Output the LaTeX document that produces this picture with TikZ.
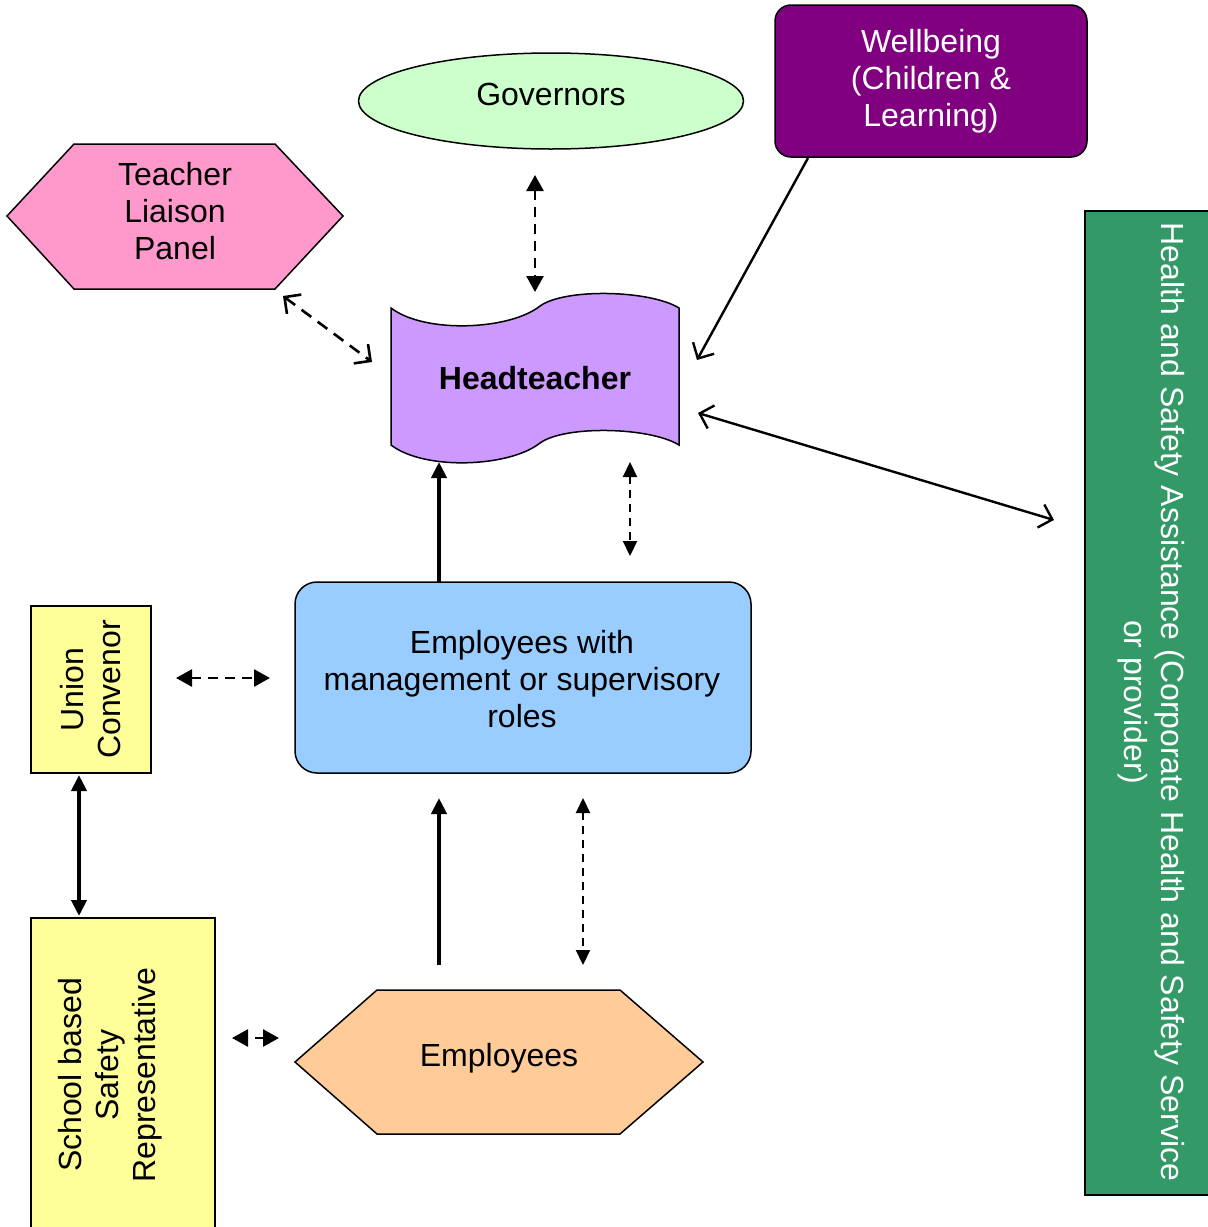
\documentclass[tikz,border=0pt]{standalone}
\usepackage{fontspec}
\setmainfont{Liberation Sans}
\usetikzlibrary{arrows.meta,shapes.geometric}
\definecolor{pinkc}{HTML}{FF99CC}
\definecolor{purpc}{HTML}{800080}
\definecolor{mintc}{HTML}{CCFFCC}
\definecolor{lilac}{HTML}{CC99FF}
\definecolor{skyc}{HTML}{99CCFF}
\definecolor{yelc}{HTML}{FFFF99}
\definecolor{peachc}{HTML}{FFCC99}
\definecolor{greenc}{HTML}{339966}
\begin{document}
\begin{tikzpicture}[x=1pt,y=-1pt,
  lbl/.style={font=\fontsize{32}{37}\selectfont, align=center, inner sep=0pt},
  shp/.style={draw=black, line width=1.5pt},
  dshfill/.style={line width=2.6pt, dash pattern=on 10pt off 7pt,
     {Triangle[length=16pt,width=17pt]}-{Triangle[length=16pt,width=17pt]}},
  dshopen/.style={line width=2.6pt, dash pattern=on 12pt off 8pt,
     {Straight Barb[length=12pt,width=24pt]}-{Straight Barb[length=12pt,width=24pt]}},
  thin/.style={line width=2.4pt},
  thick2/.style={line width=4pt}
]
\useasboundingbox (0,0) rectangle (1208,1227);

% shapes
\node[shp, ellipse, fill=mintc, minimum width=385pt, minimum height=96pt, inner sep=0pt] (govshape) at (551,101) {};
\node[lbl] (gov) at (551,94) {Governors};

\draw[shp, fill=purpc, rounded corners=16pt] (775,5) rectangle (1087,157);
\node[lbl, text=white] (well) at (931,81) {Wellbeing\\(Children \&\\Learning)};

\draw[shp, fill=pinkc] (7,216) -- (74,144) -- (275,144) -- (343,216) -- (275,289) -- (74,289) -- cycle;
\node[lbl] (tlp) at (175,211) {Teacher\\Liaison\\Panel};

\draw[shp, fill=lilac] (391,308) .. controls (425,334) and (510,330) .. (540,306)
   .. controls (565,288) and (650,290) .. (679,308) -- (679,445)
   .. controls (650,427) and (565,425) .. (540,443)
   .. controls (510,467) and (425,471) .. (391,445) -- cycle;
\node[lbl, font=\fontsize{32}{37}\selectfont\bfseries] (ht) at (535,378) {Headteacher};

\draw[shp, fill=greenc] (1085,211) rectangle (1225,1195);
\node[lbl, text=white, rotate=-90] (hsa) at (1151,702) {Health and Safety Assistance (Corporate Health and Safety Service\\or provider)};

\draw[shp, fill=skyc, rounded corners=22pt] (295,582) rectangle (751,773);
\node[lbl] (mgr) at (522,679) {Employees with\\management or supervisory\\roles};

\draw[shp, fill=yelc] (31,606) rectangle (151,773);
\node[lbl, rotate=90] (uc) at (90.5,689.5) {Union\\Convenor};

\draw[shp, fill=yelc] (31,918) rectangle (215,1240);
\node[lbl, rotate=90] (ssr) at (110,1075) {School based\\Safety\\Representative};

\draw[shp, fill=peachc] (295,1062) -- (377,990) -- (620,990) -- (703,1062) -- (620,1134) -- (377,1134) -- cycle;
\node[lbl] (emp) at (499,1058) {Employees};

% connector end points
\coordinate (tlpA) at (283,296);  \coordinate (htA) at (372,362);
\coordinate (govA) at (535,175);  \coordinate (htB) at (535,292);
\coordinate (wellA) at (808,158); \coordinate (htC) at (697,360);
\coordinate (htD) at (698,413);   \coordinate (hsaA) at (1054,520);
\coordinate (htE) at (630,462);   \coordinate (mgrA) at (630,556);
\coordinate (mgrB) at (439,582);  \coordinate (htF) at (439,462);
\coordinate (ucA) at (176,678);   \coordinate (mgrC) at (270,678);
\coordinate (ucB) at (79,775);    \coordinate (ssrA) at (79,916);
\coordinate (empA) at (439,965);  \coordinate (mgrD) at (439,798);
\coordinate (mgrE) at (583,798);  \coordinate (empB) at (583,965);
\coordinate (ssrB) at (232,1038); \coordinate (empC) at (279,1038);

% connectors
\draw[dshopen] (tlpA) -- (htA);
\draw[dshfill] (govA) -- (htB);
\draw[thin, -{Straight Barb[length=12pt,width=24pt]}] (wellA) -- (htC);
\draw[thin, {Straight Barb[length=12pt,width=24pt]}-{Straight Barb[length=12pt,width=24pt]}] (htD) -- (hsaA);
\draw[dshfill, line width=2.2pt, dash pattern=on 8pt off 6pt,
   {Triangle[length=15pt,width=14pt]}-{Triangle[length=15pt,width=14pt]}] (htE) -- (mgrA);
\draw[thick2, -{Triangle[length=16pt,width=15pt]}] (mgrB) -- (htF);
\draw[dshfill] (ucA) -- (mgrC);
\draw[thick2, {Triangle[length=16pt,width=15pt]}-{Triangle[length=16pt,width=15pt]}] (ucB) -- (ssrA);
\draw[thick2, -{Triangle[length=16pt,width=15pt]}] (empA) -- (mgrD);
\draw[dshfill, line width=2.2pt, dash pattern=on 8pt off 6pt,
   {Triangle[length=15pt,width=14pt]}-{Triangle[length=15pt,width=14pt]}] (mgrE) -- (empB);
\draw[dshfill, dash pattern=on 0pt off 8pt on 10pt off 20pt] (ssrB) -- (empC);
\end{tikzpicture}
\end{document}
